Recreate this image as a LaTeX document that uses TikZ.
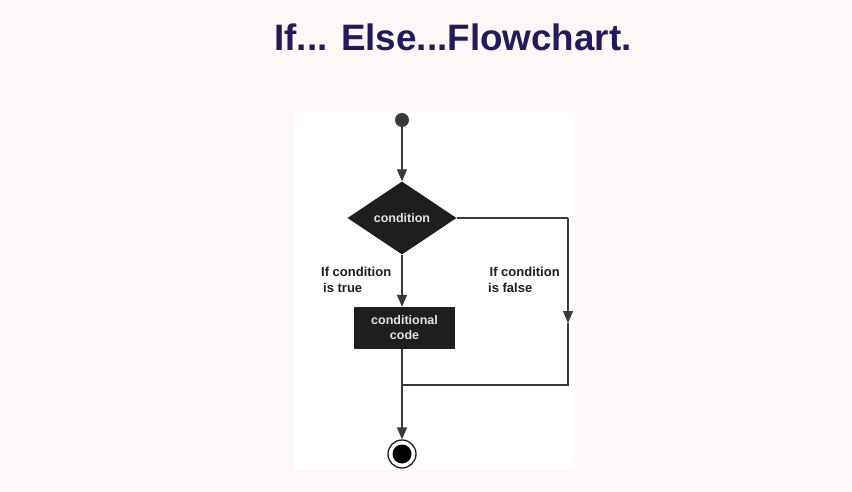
\documentclass[tikz,border=0pt]{standalone}
\usepackage{fontspec}
\setmainfont{Liberation Sans}
\usetikzlibrary{shapes.geometric,arrows.meta}
\definecolor{bgpink}{HTML}{FEF8F8}
\definecolor{titleblue}{HTML}{221A5C}
\definecolor{boxdark}{HTML}{1E1E1E}
\definecolor{linegray}{HTML}{3A3A3A}
\definecolor{txtlight}{HTML}{E4E4E4}
\tikzset{
  conn/.style={draw=linegray, line width=1.3pt},
  arr/.style={conn, -{Triangle[length=12pt,width=10pt]}},
  decision/.style={diamond, fill=boxdark, minimum width=109pt, minimum height=73pt, inner sep=0pt, aspect=1.5, text=txtlight, font=\bfseries\fontsize{12.5}{14}\selectfont},
  codebox/.style={rectangle, fill=boxdark, minimum width=101pt, minimum height=42pt, inner sep=0pt, text=txtlight, align=center, font=\bfseries\fontsize{12.5}{15}\selectfont},
  lbl/.style={align=left, anchor=north west, inner sep=0pt, text=boxdark, font=\bfseries\fontsize{13}{15.5}\selectfont},
}
\begin{document}
\begin{tikzpicture}[x=1pt,y=-1pt]
\fill[bgpink] (0,0) rectangle (852,492);
\useasboundingbox (0,0) rectangle (852,492);
\fill[white] (294,113) rectangle (575,470);
\node[text=titleblue, font=\bfseries\fontsize{36.8}{40}\selectfont] (title) at (453,37) {If... Else...Flowchart.};
\node[circle, fill=linegray, minimum size=14pt, inner sep=0pt] (start) at (402,120) {};
\node[decision] (cond) at (402,218) {condition};
\node[codebox] (code) at (404.5,328) {conditional\\code};
\node[circle, draw=boxdark, line width=1.3pt, fill=white, minimum size=28pt, inner sep=0pt] (stop) at (402,454) {};
\node[circle, fill=black, minimum size=19pt, inner sep=0pt] (stopin) at (stop.center) {};
\coordinate (rc) at (568,218);
\coordinate (rm) at (568,323);
\coordinate (rb) at (568,385);
\coordinate (jn) at (402,385);
\draw[arr] (start) -- (cond.north);
\draw[arr] (cond.south) -- (code.north -| cond.south);
\draw[conn] (cond.east) -- (rc);
\draw[arr] (rc) -- (rm);
\draw[conn] (rm) -- (rb) -- (jn);
\draw[arr] (code.south -| jn) -- (stop.north);
\node[lbl] (ltrue) at (321,267) {If condition\\\hspace*{2pt}is true};
\node[lbl] (lfalse) at (488,267) {\hspace*{1.5pt}If condition\\is false};
\end{tikzpicture}
\end{document}
